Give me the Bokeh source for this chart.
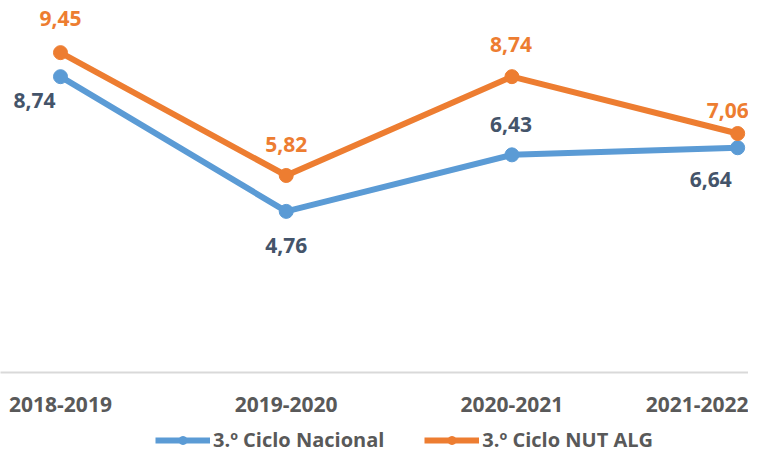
from bokeh.plotting import figure
from bokeh.layouts import column
from bokeh.models import (ColumnDataSource, FixedTicker, Legend, LegendItem)
from bokeh.core.properties import value
from bokeh.embed import file_html
from bokeh.resources import INLINE

# ---- data ----
categories = ["2018-2019", "2019-2020", "2020-2021", "2021-2022"]
nacional = [8.74, 4.76, 6.43, 6.64]
nut_alg = [9.45, 5.82, 8.74, 7.06]
nacional_labels = ["8,74", "4,76", "6,43", "6,64"]
nut_alg_labels = ["9,45", "5,82", "8,74", "7,06"]
series_names = ["3.º Ciclo Nacional", "3.º Ciclo NUT ALG"]

# ---- styles ----
BLUE = "#5B9BD5"
ORANGE = "#ED7D31"
DARK = "#44546A"
GREY = "#595959"
FONT = "Open Sans"

xs = list(range(len(categories)))

chart = figure(width=748, height=424, output_backend="svg", toolbar_location=None,
               x_range=(-0.2658, 3.048), y_range=(0, 10.99),
               y_axis_location=None, min_border=0, min_border_bottom=52,
               background_fill_color="white", border_fill_color="white")
chart.outline_line_color = None
chart.xgrid.grid_line_color = None
chart.ygrid.grid_line_color = None

src_n = ColumnDataSource(dict(x=xs, y=nacional, lab=nacional_labels,
                              dx=[-26, 0, -1, -27], dy=[24, 34, -30, 32]))
src_o = ColumnDataSource(dict(x=xs, y=nut_alg, lab=nut_alg_labels,
                              dx=[0, 0, -1, -10], dy=[-34, -31, -32, -23]))

chart.line("x", "y", source=src_n, line_color=BLUE, line_width=6)
chart.scatter("x", "y", source=src_n, size=14, fill_color=BLUE, line_color=BLUE)
chart.line("x", "y", source=src_o, line_color=ORANGE, line_width=6)
chart.scatter("x", "y", source=src_o, size=14, fill_color=ORANGE, line_color=ORANGE)

chart.text("x", "y", text="lab", source=src_n, x_offset="dx", y_offset="dy",
           text_align="center", text_baseline="middle", text_color=DARK,
           text_font=value(FONT), text_font_style="bold", text_font_size="21px")
chart.text("x", "y", text="lab", source=src_o, x_offset="dx", y_offset="dy",
           text_align="center", text_baseline="middle", text_color=ORANGE,
           text_font=value(FONT), text_font_style="bold", text_font_size="21px")

ax = chart.xaxis[0]
ax.ticker = FixedTicker(ticks=xs)
ax.major_label_overrides = {i: c for i, c in enumerate(categories)}
ax.major_tick_line_color = None
ax.minor_tick_line_color = None
ax.axis_line_color = "#D9D9D9"
ax.axis_line_width = 2
ax.major_label_standoff = 18
ax.major_label_text_font = FONT
ax.major_label_text_font_style = "bold"
ax.major_label_text_font_size = "21px"
ax.major_label_text_color = GREY

# ---- legend strip (series drawn outside its visible range, only the legend shows) ----
leg = figure(width=748, height=29, output_backend="svg", toolbar_location=None,
             x_range=(0, 1), y_range=(100, 101), x_axis_location=None, y_axis_location=None,
             min_border=0, background_fill_color="white", border_fill_color="white")
leg.outline_line_color = None
leg.xgrid.grid_line_color = None
leg.ygrid.grid_line_color = None
l1 = leg.line("x", "y", source=src_n, line_color=BLUE, line_width=6)
s1 = leg.scatter("x", "y", source=src_n, size=14, fill_color=BLUE, line_color=BLUE)
l2 = leg.line("x", "y", source=src_o, line_color=ORANGE, line_width=6)
s2 = leg.scatter("x", "y", source=src_o, size=14, fill_color=ORANGE, line_color=ORANGE)

legend = Legend(items=[LegendItem(label=series_names[0], renderers=[l1, s1]),
                       LegendItem(label=series_names[1], renderers=[l2, s2])],
                orientation="horizontal", location=(155, 0),
                glyph_width=55, glyph_height=20, label_standoff=3, spacing=40,
                label_text_font=FONT, label_text_font_style="bold",
                label_text_font_size="20px", label_text_color=GREY,
                border_line_color=None, background_fill_alpha=0,
                padding=1, margin=0)
leg.add_layout(legend, "center")

p = column(chart, leg, spacing=0)
open("out.html", "w").write(file_html(p, INLINE))
